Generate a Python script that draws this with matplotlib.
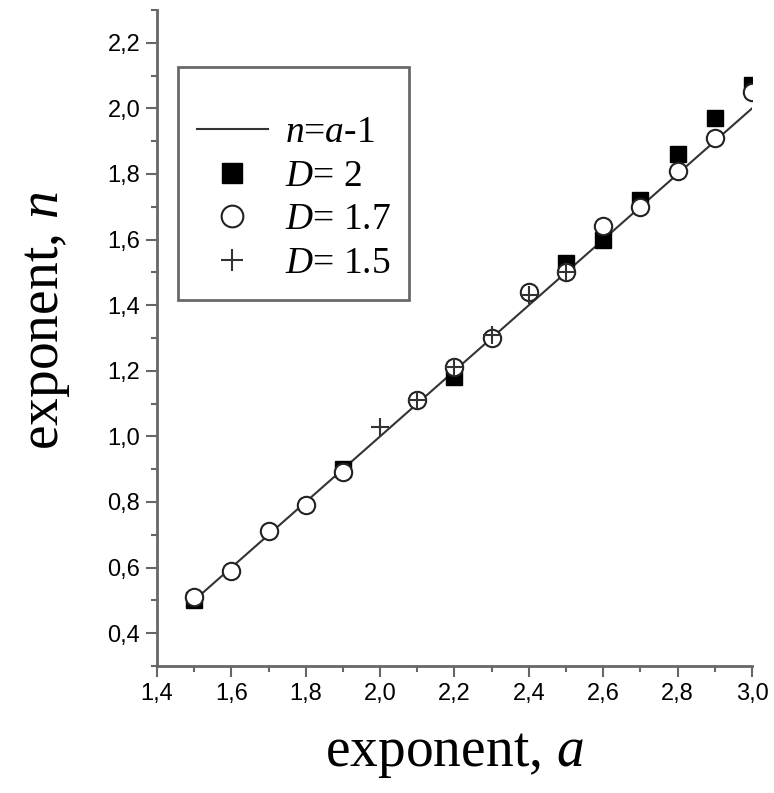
import matplotlib
matplotlib.use('Agg')
import matplotlib.pyplot as plt
from matplotlib.ticker import MultipleLocator, FuncFormatter

# --- data ---
a_d2 = [1.5, 1.9, 2.2, 2.5, 2.6, 2.7, 2.8, 2.9, 3.0]
n_d2 = [0.50, 0.90, 1.18, 1.53, 1.60, 1.72, 1.86, 1.97, 2.07]

a_d17 = [1.5, 1.6, 1.7, 1.8, 1.9, 2.1, 2.2, 2.3, 2.4, 2.5, 2.6, 2.7, 2.8, 2.9, 3.0]
n_d17 = [0.51, 0.59, 0.71, 0.79, 0.89, 1.11, 1.21, 1.30, 1.44, 1.50, 1.64, 1.70, 1.81, 1.91, 2.05]

a_d15 = [2.0, 2.1, 2.2, 2.3, 2.4, 2.5]
n_d15 = [1.03, 1.11, 1.21, 1.31, 1.43, 1.50]

a_fit = [1.5, 3.0]

plt.rcParams.update({
    "font.family": "Liberation Sans",
    "mathtext.fontset": "custom",
    "mathtext.rm": "Liberation Serif",
    "mathtext.it": "Liberation Serif:italic",
})

fig = plt.figure(figsize=(7.74, 7.93), dpi=100)
ax = fig.add_axes([0.2028, 0.1602, 0.7688, 0.8272])

ax.plot(a_fit, [v - 1 for v in a_fit], color='#333333', lw=1.5, zorder=1,
        label=r"$n$=$a$-1")
ax.plot(a_d2, n_d2, ls='none', marker='s', ms=11, color='black', zorder=2,
        label=r"$D$= 2")
ax.plot(a_d17, n_d17, ls='none', marker='o', ms=12.5, mfc='white', mec='#222222',
        mew=1.5, zorder=3, label=r"$D$= 1.7")
ax.plot(a_d15, n_d15, ls='none', marker='+', ms=13, mec='#333333', mew=1.5,
        zorder=4, label=r"$D$= 1.5")

ax.set_xlim(1.4, 3.0)
ax.set_ylim(0.3, 2.3)

for s in ['top', 'right']:
    ax.spines[s].set_visible(False)
for s in ['left', 'bottom']:
    ax.spines[s].set_color('#666666')
    ax.spines[s].set_linewidth(2)

ax.xaxis.set_major_locator(MultipleLocator(0.2))
ax.xaxis.set_minor_locator(MultipleLocator(0.1))
ax.yaxis.set_major_locator(MultipleLocator(0.2))
ax.yaxis.set_minor_locator(MultipleLocator(0.1))
comma = FuncFormatter(lambda v, p: f"{v:.1f}".replace('.', ','))
ax.xaxis.set_major_formatter(comma)
ax.yaxis.set_major_formatter(comma)
ax.set_yticks([0.4, 0.6, 0.8, 1.0, 1.2, 1.4, 1.6, 1.8, 2.0, 2.2])
ax.tick_params(which='major', direction='out', length=8, width=1.5,
               color='#666666', labelsize=17, pad=4)
ax.tick_params(which='minor', direction='out', length=4, width=1.5,
               color='#666666')

ax.set_xlabel(r"exponent, $a$", fontsize=40, family='Liberation Serif')
ax.set_ylabel(r"exponent, $n$", fontsize=40, family='Liberation Serif')
ax.xaxis.set_label_coords(0.5, -0.094)
ax.yaxis.set_label_coords(-0.143, 0.527)

leg = ax.legend(loc='upper left', bbox_to_anchor=(0.035, 0.913),
                prop={'family': 'Liberation Serif', 'size': 27},
                frameon=True, fancybox=False, handlelength=1.9,
                handletextpad=0.45, labelspacing=0.24, borderpad=0.5,
                markerscale=1.25, borderaxespad=0,
                title=' ', title_fontsize=16)
leg.get_frame().set_edgecolor('#444444')
leg.get_frame().set_linewidth(2)

fig.savefig("out.png", dpi=100)
